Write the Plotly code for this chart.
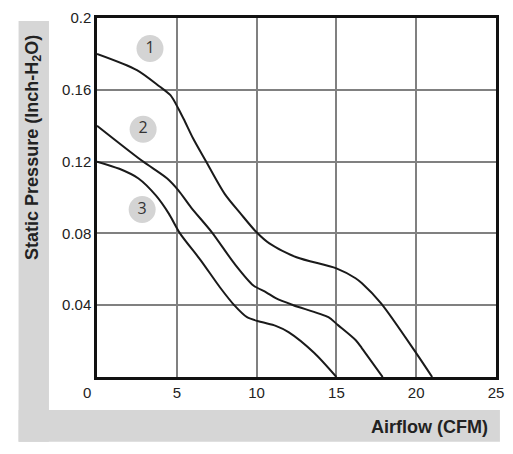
import plotly.graph_objects as go

# Curve data (Airflow CFM, Static Pressure Inch-H2O)
curve1_x = [0, 2.5, 3.9, 4.6, 5.1, 5.5, 6.0, 6.8, 8.0, 9.0, 10.0, 10.8, 12.5, 15.0, 16.2, 16.6, 17.8, 20.0, 21.0]
curve1_y = [0.18, 0.171, 0.162, 0.157, 0.1495, 0.1425, 0.1333, 0.1206, 0.102, 0.091, 0.0806, 0.0744, 0.0667, 0.0605, 0.055, 0.0522, 0.041, 0.0133, 0]

curve2_x = [0, 2.8, 4.4, 5.1, 5.9, 7.2, 8.6, 9.8, 10.6, 11.2, 12.3, 14.5, 15.1, 16.2, 16.6, 17.9]
curve2_y = [0.14, 0.1206, 0.1106, 0.104, 0.0944, 0.0806, 0.0633, 0.051, 0.0472, 0.0439, 0.04, 0.0333, 0.0289, 0.0206, 0.016, 0]

curve3_x = [0, 1.4, 2.6, 3.7, 4.5, 5.2, 6.5, 7.7, 8.6, 9.4, 10.3, 11.2, 12.0, 13.6, 15.0]
curve3_y = [0.12, 0.116, 0.1106, 0.101, 0.091, 0.08, 0.065, 0.05, 0.04, 0.0333, 0.0306, 0.0285, 0.025, 0.0135, 0]

label_text = ["1", "2", "3"]
label_x = [3.32, 2.89, 2.83]
label_y = [0.183, 0.138, 0.0933]

x_tickvals = [5, 10, 15, 20, 25]
y_tickvals = [0.04, 0.08, 0.12, 0.16, 0.2]
y_ticktext = ["0.04", "0.08", "0.12", "0.16", "0.2"]

W, H = 513, 454
L, R, T, B = 97, 9, 17, 77
pw, ph = W - L - R, H - T - B

def px_x(p):
    return (p - L) / pw

def px_y(p):
    return (H - B - p) / ph

fig = go.Figure()
for xs, ys in [(curve1_x, curve1_y), (curve2_x, curve2_y), (curve3_x, curve3_y)]:
    fig.add_trace(go.Scatter(x=xs, y=ys, mode="lines",
                             line=dict(color="#1a1a1a", width=2, shape="spline", smoothing=0.8),
                             showlegend=False, hoverinfo="skip"))

fig.add_trace(go.Scatter(x=label_x, y=label_y, mode="markers+text", text=label_text,
                         textposition="middle center",
                         textfont=dict(family="Open Sans, Noto Sans, sans-serif", size=16, color="#333333"),
                         marker=dict(size=27, color="#d4d4d4", line=dict(width=0)),
                         showlegend=False, hoverinfo="skip"))

font = "Liberation Sans, Arial, sans-serif"

fig.update_layout(
    width=W, height=H,
    margin=dict(l=L, r=R, t=T, b=B),
    paper_bgcolor="white", plot_bgcolor="white",
    xaxis=dict(range=[0, 25], tickvals=x_tickvals, showgrid=True, gridcolor="#808080", gridwidth=2,
               zeroline=False, showline=True, mirror=True, linecolor="#111111", linewidth=2.5,
               ticks="", tickfont=dict(family=font, size=15, color="#222222")),
    yaxis=dict(range=[0, 0.2], tickvals=y_tickvals, ticktext=y_ticktext, showgrid=True,
               gridcolor="#808080", gridwidth=2, zeroline=False, showline=True, mirror=True,
               linecolor="#111111", linewidth=2.5, ticks="",
               tickfont=dict(family=font, size=15, color="#222222")),
    shapes=[
        dict(type="rect", xref="paper", yref="paper", x0=px_x(17), x1=px_x(48), y0=px_y(442), y1=px_y(20),
             fillcolor="#d6d6d6", line=dict(width=0), layer="below"),
        dict(type="rect", xref="paper", yref="paper", x0=px_x(17), x1=px_x(508), y0=px_y(442), y1=px_y(410),
             fillcolor="#d6d6d6", line=dict(width=0), layer="below"),
    ],
    annotations=[
        dict(text="<b>Static Pressure (Inch-H<sub>2</sub>O)</b>", xref="paper", yref="paper",
             x=px_x(32), y=px_y(147), textangle=-90, xanchor="center", yanchor="middle",
             showarrow=False, font=dict(family=font, size=18, color="#222222")),
        dict(text="<b>Airflow (CFM)</b>", xref="paper", yref="paper",
             x=px_x(498), y=px_y(427), xanchor="right", yanchor="middle",
             showarrow=False, font=dict(family=font, size=18, color="#222222")),
        dict(text="0", xref="paper", yref="paper", x=px_x(87), y=px_y(393),
             xanchor="center", yanchor="middle", showarrow=False,
             font=dict(family=font, size=15, color="#222222")),
    ],
)

fig.write_html("out.html")
